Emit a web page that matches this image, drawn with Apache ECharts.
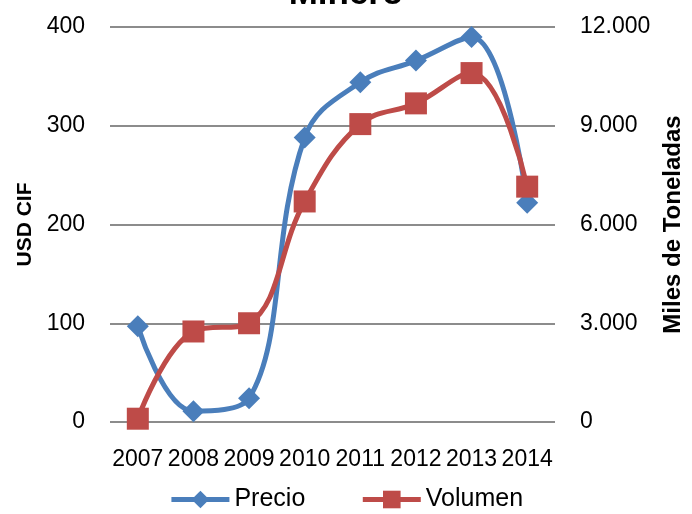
<!DOCTYPE html>
<html>
<head>
<meta charset="utf-8">
<script src="https://cdn.jsdelivr.net/npm/echarts@6/dist/echarts.min.js"></script>
<style>html,body{margin:0;padding:0;background:#fff;}#c{width:692px;height:514px;}</style>
</head>
<body>
<div id="c"></div>
<script>
var categories = ['2007','2008','2009','2010','2011','2012','2013','2014'];
var precio = [97, 11, 24, 288, 344, 366, 390, 222];
var volumen = [100, 2750, 3000, 6700, 9050, 9680, 10600, 7150];
var leftTicks = [0, 100, 400];       // min, interval, max (left)
var rightTicks = [0, 3000, 12000];   // min, interval, max (right)

var FONT = '"Liberation Sans", sans-serif';
var chart = echarts.init(document.getElementById('c'), null, {renderer: 'canvas'});
chart.setOption({
  animation: false,
  backgroundColor: '#ffffff',
  title: {
    text: 'Minero', left: 'center', top: -28,
    textStyle: {fontFamily: FONT, fontSize: 35, fontWeight: 'bold', color: '#000'}
  },
  legend: {
    bottom: -3, left: 'center', itemGap: 55, itemWidth: 58, itemHeight: 22,
    textStyle: {fontFamily: FONT, fontSize: 25, color: '#000'},
    lineStyle: {width: 5},
    data: ['Precio', 'Volumen']
  },
  grid: {left: 110, right: 137, top: 27, bottom: 92, outerBoundsMode: 'none', containLabel: false},
  xAxis: {
    type: 'category', data: categories, boundaryGap: true,
    axisLine: {show: false}, axisTick: {show: false},
    axisLabel: {interval: 0, margin: 26, fontFamily: FONT, fontSize: 23, color: '#000'}
  },
  yAxis: [{
    type: 'value', min: leftTicks[0], max: leftTicks[2], interval: leftTicks[1],
    name: 'USD CIF', nameLocation: 'middle', nameRotate: 90, nameGap: 70,
    nameTextStyle: {fontFamily: FONT, fontSize: 21, fontWeight: 'bold', color: '#000'},
    axisLine: {show: false}, axisTick: {show: false},
    axisLabel: {margin: 25, fontFamily: FONT, fontSize: 23, color: '#000'},
    splitLine: {lineStyle: {color: '#8c8c8c', width: 2}}
  }, {
    type: 'value', min: rightTicks[0], max: rightTicks[2], interval: rightTicks[1],
    name: 'Miles de Toneladas', nameLocation: 'middle', nameRotate: 90, nameGap: 100,
    nameTextStyle: {fontFamily: FONT, fontSize: 24, fontWeight: 'bold', color: '#000'},
    axisLine: {show: false}, axisTick: {show: false},
    axisLabel: {margin: 25, fontFamily: FONT, fontSize: 23, color: '#000',
      formatter: function (v) { return String(v).replace(/\B(?=(\d{3})+(?!\d))/g, '.'); }},
    splitLine: {show: false}
  }],
  series: [{
    name: 'Precio', type: 'line', yAxisIndex: 0, data: precio, smooth: 0.4,
    symbol: 'diamond', symbolSize: 22, z: 2,
    lineStyle: {color: '#4a7ebb', width: 5},
    itemStyle: {color: '#4a7ebb'}
  }, {
    name: 'Volumen', type: 'line', yAxisIndex: 1, data: volumen, smooth: 0.4,
    symbol: 'rect', symbolSize: 22, z: 3,
    lineStyle: {color: '#be4b48', width: 5},
    itemStyle: {color: '#be4b48'}
  }]
});
</script>
</body>
</html>
